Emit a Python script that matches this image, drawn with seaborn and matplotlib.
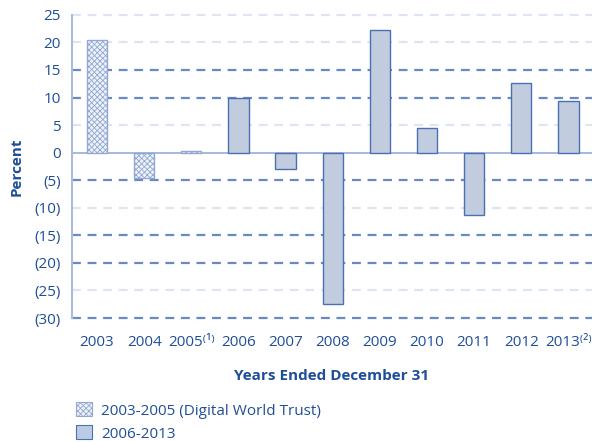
import numpy as np
import pandas as pd
import matplotlib
matplotlib.use('Agg')
import matplotlib.pyplot as plt
import seaborn as sns
from matplotlib.patches import Patch

# data
years = ['2003', '2004', '2005⁽¹⁾', '2006', '2007', '2008', '2009', '2010', '2011', '2012', '2013⁽²⁾']
returns = [20.4, -4.6, 0.3, 9.9, -3.0, -27.4, 22.3, 4.4, -11.3, 12.6, 9.3]
periods = ['2003-2005 (Digital World Trust)'] * 3 + ['2006-2013'] * 8
yticks = [25, 20, 15, 10, 5, 0, -5, -10, -15, -20, -25, -30]
strong_grid = [15, 10, -5, -15, -20, -30]

df = pd.DataFrame({'Year': years, 'Return': returns, 'Period': periods})

TEXT = '#1f4e99'
FILL = '#bccbe4'
EDGE = '#4a70b4'
HATCH_BG = '#eef2f9'
HATCH = '#92a8d3'

sns.set_style('white')
plt.rcParams['font.family'] = ['Open Sans', 'DejaVu Sans']
plt.rcParams['hatch.linewidth'] = 0.6

fig = plt.figure(figsize=(5.97, 4.42), dpi=100)
ax = fig.add_axes([0.1206, 0.2805, 0.871, 0.686])

sns.barplot(data=df, x='Year', y='Return', hue='Period', dodge=False,
            palette=[FILL, FILL], width=0.43, edgecolor=EDGE, linewidth=1.0,
            legend=False, ax=ax, zorder=3)

for bar, p in zip(ax.patches, df['Period']):
    if p.startswith('2003'):
        bar.set_facecolor(HATCH_BG)
        bar.set_edgecolor(HATCH)
        bar.set_hatch('xxxxxx')

ax.set_xlim(-0.53, 10.5)
ax.set_ylim(-30, 25)
ax.set_yticks(yticks)
ax.set_yticklabels([f'({abs(v)})' if v < 0 else str(v) for v in yticks])

for v in yticks:
    if v == 0:
        ax.axhline(v, color='#9fb3d9', lw=1.3, zorder=2)
    elif v in strong_grid:
        ax.axhline(v, color='#6a89c2', lw=1.6, ls=(0, (4, 3)), zorder=1, clip_on=False)
    else:
        ax.axhline(v, color='#dde5f2', lw=1.6, ls=(0, (4, 3)), zorder=1, clip_on=False)

for s in ['top', 'right', 'bottom']:
    ax.spines[s].set_visible(False)
ax.spines['left'].set_color('#a9bcdf')
ax.spines['left'].set_linewidth(1.5)

ax.tick_params(axis='both', length=0, labelcolor=TEXT, labelsize=11, pad=8)
ax.tick_params(axis='x', pad=12)
ax.set_ylabel('Percent', color=TEXT, fontsize=11, fontweight='bold', labelpad=8)
ax.set_xlabel('Years Ended December 31', color=TEXT, fontsize=11, fontweight='bold', labelpad=14)

handles = [Patch(facecolor=HATCH_BG, edgecolor=HATCH, hatch='xxxxxx', lw=0.8),
           Patch(facecolor=FILL, edgecolor=EDGE, lw=0.8)]
fig.legend(handles, ['2003-2005 (Digital World Trust)', '2006-2013'],
           loc='lower left', bbox_to_anchor=(0.105, -0.03), frameon=False,
           labelcolor=TEXT, fontsize=11, handlelength=1.0, handleheight=1.0,
           handletextpad=0.6, labelspacing=0.45)

fig.savefig('out.png', dpi=100)
